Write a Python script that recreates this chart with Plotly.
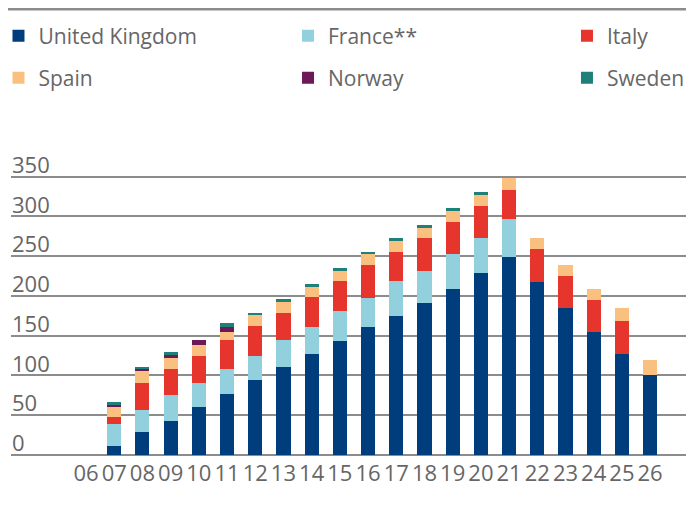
import plotly.graph_objects as go

years = ["06", "07", "08", "09", "10", "11", "12", "13", "14", "15", "16",
         "17", "18", "19", "20", "21", "22", "23", "24", "25", "26"]

uk = [0, 11, 29, 43, 60, 76, 94, 111, 127, 143, 161, 175, 191, 209, 229, 249, 218, 185, 155, 127, 100]
france = [0, 28, 28, 32, 30, 32, 30, 34, 34, 38, 36.5, 44, 40, 44, 44, 48, 0, 0, 0, 0, 0]
italy = [0, 8, 34, 33, 34, 37, 38, 33, 38, 38, 41.5, 36.5, 42, 40, 40, 36, 41, 40, 40, 42, 0]
spain = [0, 13, 14, 14, 14, 10, 14, 14, 12.5, 12.5, 14, 14, 12.5, 14, 14, 15, 14, 14, 14, 16, 19]
norway = [0, 3, 3, 4, 6, 6, 0, 0, 0, 0, 0, 0, 0, 0, 0, 0, 0, 0, 0, 0, 0]
sweden = [0, 4, 3, 3, 0, 5, 2.5, 4, 4, 4, 2.5, 4, 4, 4, 4, 0, 0, 0, 0, 0, 0]

names = ["United Kingdom", "France**", "Italy", "Spain", "Norway", "Sweden"]
colors = ["#003d7c", "#92d0de", "#e5352c", "#f9c07f", "#6b1a57", "#1f7f79"]
values = [uk, france, italy, spain, norway, sweden]

grey = "#8c8c8c"
txt = "#666666"
plot_bottom = 450  # px from figure top
ph = 321  # plot height in px for the -4..400 range


def py(pix):
    # pixel row (from figure top) -> paper y
    return (plot_bottom - pix) / ph


# one legend per entry so the 3x2 grid can be placed like the original
legend_x = [-0.0181, 0.4009, 0.8046]
legend_y = [py(28), py(70)]

fig = go.Figure()
layout_legends = {}
for i, (name, vals, color) in enumerate(zip(names, values, colors)):
    key = "legend" if i == 0 else f"legend{i + 1}"
    fig.add_trace(go.Bar(x=years, y=vals, name=name, marker_color=color,
                         marker_line_width=0, legend=key))
    layout_legends[key] = dict(
        orientation="h", x=legend_x[i % 3], y=legend_y[i // 3],
        xanchor="left", yanchor="middle",
        font=dict(family="Open Sans", size=21, color=txt),
        bgcolor="rgba(0,0,0,0)", itemclick=False, itemdoubleclick=False)

fig.update_layout(
    width=694, height=515,
    margin=dict(l=3, r=0, t=plot_bottom - ph, b=515 - plot_bottom, autoexpand=False),
    barmode="stack", bargap=0.5,
    plot_bgcolor="white", paper_bgcolor="white",
    font=dict(family="Open Sans, Lato, sans-serif", size=22, color=txt),
    showlegend=True,
    xaxis=dict(type="category", range=[-2.66, 21.84], showgrid=False,
               showline=False, ticks="", tickfont=dict(size=22, color=txt)),
    yaxis=dict(range=[-4, 400], tickvals=[0, 50, 100, 150, 200, 250, 300, 350],
               showgrid=True, gridcolor=grey, gridwidth=2,
               zeroline=True, zerolinecolor=grey, zerolinewidth=2,
               ticklabelposition="inside top", ticklabelshift=4,
               ticklabelstandoff=-2, ticks="", showline=False,
               tickfont=dict(size=22, color=txt)),
    shapes=[dict(type="line", xref="paper", yref="paper",
                 x0=-0.0045, x1=1, y0=py(1), y1=py(1),
                 line=dict(color=grey, width=3))],
    **layout_legends,
)

fig.write_html("out.html")
